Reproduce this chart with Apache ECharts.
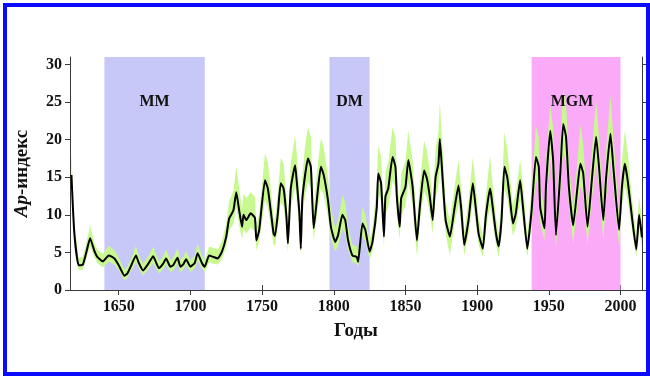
<!DOCTYPE html>
<html>
<head>
<meta charset="utf-8">
<script src="https://cdn.jsdelivr.net/npm/echarts@6/dist/echarts.min.js"></script>
<style>
html,body{margin:0;padding:0;background:#fff;}
#wrap{position:relative;width:650px;height:376px;overflow:hidden;}
#chart{position:absolute;left:0;top:0;width:650px;height:376px;}
#frame{position:absolute;left:3px;top:3px;width:639px;height:365px;border:4px solid #0a0aff;pointer-events:none;}
</style>
</head>
<body>
<div id="wrap"><div id="chart"></div><div id="frame"></div></div>
<script>
// ---- data ----
const years = [1617,1619,1622,1625,1628,1630,1633,1635,1639,1643,1647,1650,1654,1656,1659,1662,1664,1667,1671,1674,1678,1681,1683,1686,1688,1691,1693,1695,1697,1700,1703,1705,1708,1710,1713,1716,1719,1722,1725,1727,1730,1732,1734,1736,1737,1739,1742,1745,1746,1748,1752,1754,1756,1758,1759,1761,1763,1765,1767,1768,1770,1773,1774,1776,1777,1778,1780,1782,1784,1785,1786,1789,1791,1793,1796,1798,1801,1803,1806,1808,1810,1813,1816,1817,1820,1822,1825,1827,1830,1831,1833,1835,1836,1838,1841,1843,1844,1846,1847,1850,1852,1855,1858,1860,1863,1865,1867,1869,1871,1873,1874,1876,1878,1881,1884,1887,1889,1891,1894,1897,1899,1901,1904,1906,1909,1910,1913,1915,1917,1919,1921,1923,1925,1927,1930,1932,1935,1938,1941,1943,1944,1947,1948,1951,1953,1955,1958,1960,1962,1964,1967,1970,1972,1974,1977,1980,1983,1985,1988,1990,1993,1995,1999,2001,2003,2005,2008,2011,2013,2015];
const apIndex = [15.3,7.6,3.3,3.4,5.5,6.9,5.2,4.4,3.8,4.6,4.2,3.3,1.9,2.2,3.4,4.6,3.6,2.6,3.6,4.5,2.9,3.5,4.2,3.1,3.3,4.3,3.1,3.4,4.1,3.1,3.6,4.9,3.6,3.1,4.6,4.4,4.2,5.1,7.1,9.5,10.6,13.0,10.6,8.4,10.0,9.3,10.2,9.6,6.6,8.0,14.6,13.5,10.6,7.5,7.2,10.2,14.2,13.5,9.7,6.2,13.5,16.6,14.8,10.2,5.5,11.9,15.3,17.5,16.4,11.9,8.2,13.5,16.4,15.3,11.9,8.4,6.4,7.3,10.0,9.3,6.6,4.6,4.4,3.75,8.85,8.0,5.1,6.4,11.0,15.5,14.2,7.1,12.4,13.5,17.7,16.4,12.4,8.4,12.2,13.7,17.3,13.7,6.6,11.0,15.9,14.8,12.4,9.3,15.0,16.8,20.1,14.6,9.3,7.1,10.6,13.9,10.6,6.0,9.3,14.2,11.0,7.5,5.5,9.7,13.5,12.4,7.7,5.8,9.3,16.4,15.0,11.9,8.85,10.2,14.6,11.0,5.5,10.6,17.7,16.4,11.0,8.2,13.7,21.2,17.3,7.3,15.5,22.1,20.4,13.7,8.6,13.7,16.8,15.5,8.4,14.6,20.4,16.4,9.3,15.0,20.8,16.4,8.0,13.7,16.8,14.6,9.7,5.4,10.0,7.0];
const bandUpper = [18.5,9.0,4.3,4.4,6.8,8.6,6.3,5.4,4.8,5.9,5.3,4.3,2.7,3.1,4.4,5.9,4.6,3.5,4.6,5.8,3.8,4.5,5.4,4.0,4.3,5.6,4.0,4.4,5.2,4.0,4.6,6.2,4.6,4.0,5.8,5.6,5.4,6.5,8.9,11.8,13.2,16.4,13.6,10.8,12.8,12.2,13.0,12.4,8.6,10.2,18.2,17.0,13.6,9.6,9.2,13.0,17.6,16.8,12.4,8.0,16.9,20.6,18.6,13.0,7.2,15.0,19.2,21.7,20.4,15.0,10.6,17.0,20.2,19.0,15.0,10.8,8.2,9.3,12.6,11.6,8.4,6.0,5.8,5.0,11.0,10.0,6.6,8.2,14.0,19.2,17.8,9.2,15.6,17.0,21.7,20.4,15.6,10.8,15.4,17.2,21.2,17.2,8.6,14.0,19.9,18.6,15.6,11.8,18.8,21.0,25.0,18.4,11.8,9.2,13.4,17.3,13.4,7.8,11.8,17.7,13.9,9.6,7.2,12.3,17.9,15.6,9.8,7.5,11.8,21.0,18.8,15.0,11.2,12.9,17.3,13.9,7.2,13.4,21.9,20.4,13.9,10.5,17.2,24.5,21.6,9.4,19.4,26.8,25.0,17.2,11.0,17.2,22.0,19.4,10.8,18.4,25.2,20.4,11.8,18.8,25.9,20.4,10.2,17.2,21.2,18.4,12.3,7.0,12.4,9.0];
const bandLower = [14.0,6.5,2.6,2.7,4.6,5.8,4.4,3.6,3.0,3.8,3.4,2.6,1.3,1.6,2.7,3.7,2.9,1.9,2.9,3.6,2.2,2.8,3.4,2.4,2.6,3.5,2.4,2.7,3.3,2.4,2.9,4.0,2.9,2.4,3.7,3.5,3.4,4.1,5.9,7.9,8.8,10.9,8.6,6.8,8.1,7.5,8.3,7.8,5.3,6.5,12.0,11.0,8.6,6.0,5.8,8.3,11.7,11.0,7.9,5.0,11.0,13.7,12.1,8.3,4.6,9.7,12.6,14.4,13.5,9.7,6.6,11.0,13.5,12.6,9.7,6.8,5.1,5.9,8.1,7.5,5.3,3.7,3.5,3.0,7.2,6.5,4.1,5.1,9.0,12.8,11.7,5.7,10.1,11.0,14.6,13.5,10.1,6.8,9.9,11.2,14.3,11.2,4.4,9.0,13.1,12.1,10.1,7.5,12.3,13.8,16.6,11.9,7.5,4.6,8.6,11.4,8.6,4.6,7.5,11.7,9.0,6.0,4.4,7.9,11.0,10.1,6.2,4.4,7.5,13.5,12.3,9.7,7.2,8.3,11.9,9.0,4.4,8.6,14.6,13.5,9.0,6.6,11.2,17.5,14.3,5.8,12.8,18.3,16.9,11.2,6.2,11.2,13.8,12.8,6.0,11.9,16.9,13.5,6.6,12.3,17.2,13.5,5.8,11.2,13.8,11.9,7.9,4.4,8.2,5.6];
const periods = [
  {name: 'MM', from: 1640, to: 1710, color: '#c8c8f8'},
  {name: 'DM', from: 1797, to: 1825, color: '#c8c8f8'},
  {name: 'MGM', from: 1938, to: 2000, color: '#fbaaf8'}
];
const xTicks = [1650,1700,1750,1800,1850,1900,1950,2000];
const yTicks = [0,5,10,15,20,25,30];

// ---- chart ----
const lineData = years.map((y, i) => [y, apIndex[i]]);
const serif = '"Liberation Serif","Times New Roman",serif';
const axisColor = '#3a3a3a';
const plain = v => String(v);

const chart = echarts.init(document.getElementById('chart'), null, {renderer: 'canvas'});
chart.setOption({
  animation: false,
  backgroundColor: '#ffffff',
  grid: {left: 70, right: 8, top: 57, bottom: 86},
  xAxis: [{
    type: 'value', min: 1616, max: 2015, position: 'bottom',
    axisLine: {show: true, lineStyle: {color: axisColor, width: 1}},
    axisTick: {show: true, length: 5, customValues: xTicks, lineStyle: {color: axisColor}},
    axisLabel: {customValues: xTicks, formatter: plain, margin: 9, color: '#111', fontFamily: serif, fontWeight: 'bold', fontSize: 16},
    splitLine: {show: false},
    name: 'Годы', nameLocation: 'middle', nameGap: 32,
    nameTextStyle: {color: '#111', fontFamily: serif, fontWeight: 'bold', fontSize: 19}
  }, {
    type: 'value', min: 1616, max: 2015, position: 'top',
    axisLine: {show: true, lineStyle: {color: axisColor, width: 1}},
    axisTick: {show: true, length: 5, customValues: xTicks, lineStyle: {color: axisColor}},
    axisLabel: {show: false},
    splitLine: {show: false}
  }],
  yAxis: [{
    type: 'value', min: 0, max: 31, position: 'left',
    axisLine: {show: true, lineStyle: {color: axisColor, width: 1}},
    axisTick: {show: true, length: 5, customValues: yTicks, lineStyle: {color: axisColor}},
    axisLabel: {customValues: yTicks, formatter: plain, margin: 8, color: '#111', fontFamily: serif, fontWeight: 'bold', fontSize: 16},
    splitLine: {show: false},
    name: '{i|Ap}{b|-индекс}', nameLocation: 'middle', nameGap: 38, nameRotate: 90,
    nameTextStyle: {
      rich: {
        i: {fontFamily: serif, fontStyle: 'italic', fontWeight: 'bold', fontSize: 19, color: '#111'},
        b: {fontFamily: serif, fontWeight: 'bold', fontSize: 19, color: '#111'}
      }
    }
  }, {
    type: 'value', min: 0, max: 31, position: 'right',
    axisLine: {show: true, lineStyle: {color: axisColor, width: 1}},
    axisTick: {show: true, length: 5, customValues: yTicks, lineStyle: {color: axisColor}},
    axisLabel: {show: false},
    splitLine: {show: false}
  }],
  series: [{
    type: 'line', data: [], z: 1, silent: true,
    markArea: {
      silent: true,
      data: periods.map(p => [{xAxis: p.from, itemStyle: {color: p.color, opacity: 1}}, {xAxis: p.to}])
    }
  }, {
    type: 'custom', z: 2, silent: true,
    data: [[years[0], bandUpper[0]]],
    renderItem: function (params, api) {
      const pts = [];
      for (let i = 0; i < years.length; i++) pts.push(api.coord([years[i], bandUpper[i]]));
      for (let i = years.length - 1; i >= 0; i--) pts.push(api.coord([years[i], bandLower[i]]));
      return {
        type: 'polygon',
        shape: {points: pts, smooth: 0},
        style: {fill: '#c8f890', stroke: null}
      };
    },
    clip: true
  }, {
    type: 'line', z: 3, data: lineData, symbol: 'none', smooth: 0.15,
    lineStyle: {color: '#000', width: 2, join: 'round'},
    clip: true
  }]
});

// period names on top of everything, placed via the chart's own scale
const labelY = chart.convertToPixel({gridIndex: 0}, [1616, 31])[1] + 45;
chart.setOption({
  graphic: periods.map(p => ({
    type: 'text', z: 100,
    x: chart.convertToPixel({gridIndex: 0}, [(p.from + p.to) / 2, 0])[0] + (p.name === 'MGM' ? -4 : 0),
    y: labelY,
    style: {
      text: p.name, fill: '#111', align: 'center', verticalAlign: 'middle',
      font: 'bold 16px ' + serif
    }
  }))
});
</script>
</body>
</html>
